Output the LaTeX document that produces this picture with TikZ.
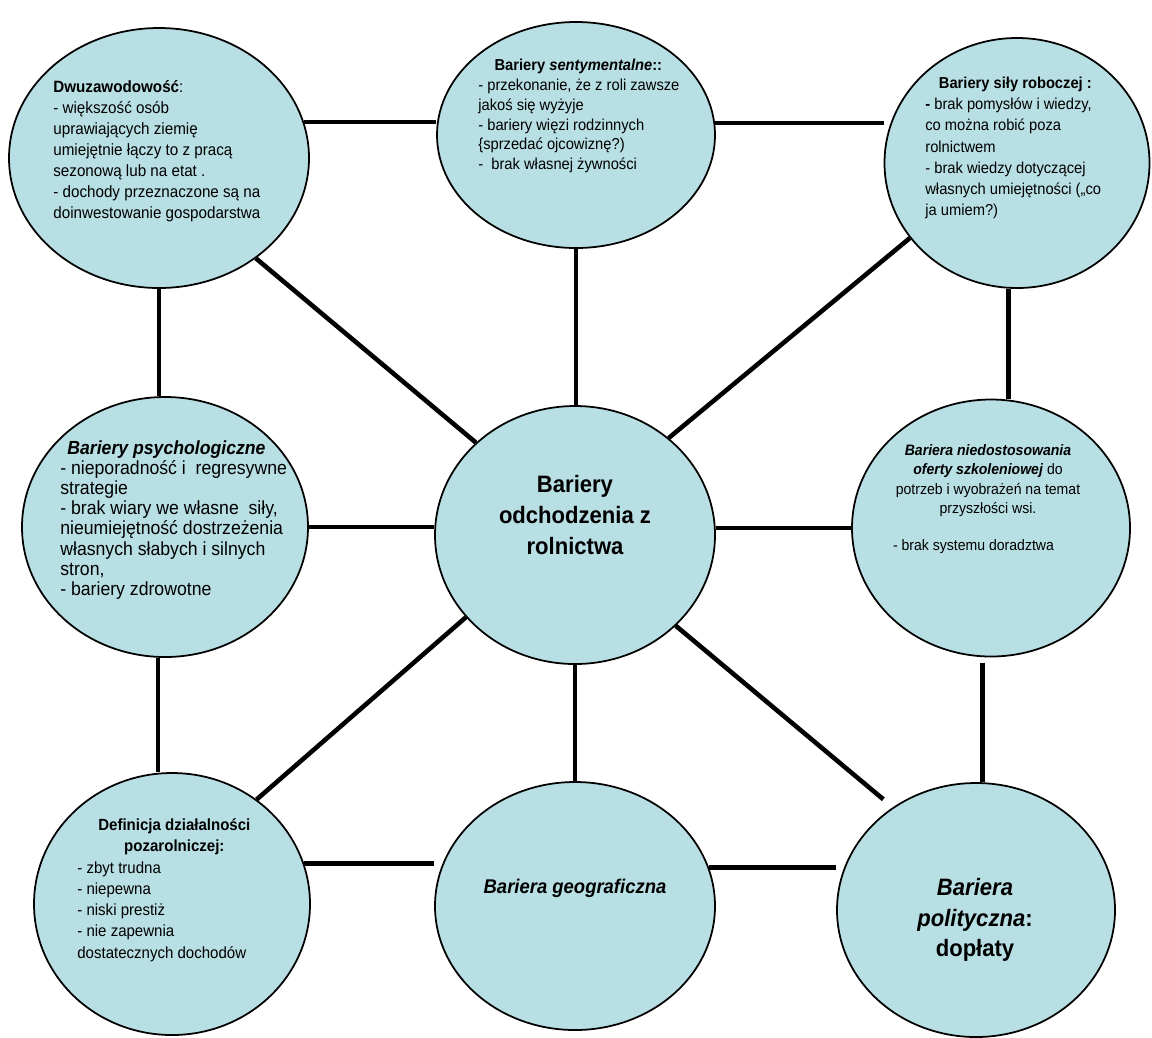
\documentclass[tikz,border=0pt]{standalone}
\usepackage{fontspec}
\setmainfont{Liberation Sans}[FakeStretch=0.93]
\usepackage{tikz}
\usetikzlibrary{shapes,calc}
\usepackage{xcolor}
\definecolor{bubble}{RGB}{184,223,227}

\begin{document}
\begin{tikzpicture}[
    bub/.style={ellipse,draw,fill=bubble,line width=1pt,inner sep=0pt},
    txt/.style={inner sep=0pt,anchor=west,align=left},
    big/.style={inner sep=0pt,align=center,font=\fontsize{13.5}{17.5}\selectfont\bfseries},
    bar/.style={line width=2.6pt}]
      \useasboundingbox (0,0) rectangle (23.04,-20.74);
      \node[bub,minimum width=6cm,minimum height=5.2cm] (dwu) at (3.18,-3.16) {};
      \node[bub,minimum width=5.56cm,minimum height=4.52cm] (sen) at (11.52,-2.70) {};
      \node[bub,minimum width=5.3cm,minimum height=5cm] (sil) at (20.34,-3.26) {};
      \node[bub,minimum width=5.72cm,minimum height=5.2cm] (psy) at (3.30,-10.54) {};
      \node[bub,minimum width=5.6cm,minimum height=5.16cm] (mid) at (11.50,-10.70) {};
      \node[bub,minimum width=5.56cm,minimum height=5.14cm] (nie) at (19.82,-10.56) {};
      \node[bub,minimum width=5.52cm,minimum height=5.24cm] (def) at (3.44,-18.08) {};
      \node[bub,minimum width=5.6cm,minimum height=4.96cm] (geo) at (11.50,-18.12) {};
      \node[bub,minimum width=5.56cm,minimum height=5.08cm] (pol) at (19.52,-18.20) {};
      % texts
      \node[txt,font=\fontsize{9.3}{11.9}\selectfont] (dwu-t) at ($(dwu)+(-2.12,0.14)$) {\textbf{Dwuzawodowość}:\\
        - większość osób\\ uprawiających ziemię\\ umiejętnie łączy to z pracą\\
        sezonową lub na etat .\\ - dochody przeznaczone są na\\ doinwestowanie gospodarstwa};
      \node[txt,font=\fontsize{9}{11.3}\selectfont] (sen-t) at ($(sen)+(-1.96,0.38)$) {\makebox[4cm]{\bfseries Bariery \textit{sentymentalne}::}\\
        - przekonanie, że z roli zawsze\\ jakoś się wyżyje\\ - bariery więzi rodzinnych\\
        \{sprzedać ojcowiznę?)\\ -~ brak własnej żywności};
      \node[txt,font=\fontsize{9}{12.1}\selectfont] (sil-t) at ($(sil)+(-1.84,0.30)$) {\makebox[3.6cm]{\bfseries Bariery siły roboczej :}\\
        \textbf{-} brak pomysłów i wiedzy,\\ co można robić poza\\ rolnictwem\\
        - brak wiedzy dotyczącej\\ własnych umiejętności („co\\ ja umiem?)};
      \node[txt,font=\fontsize{10.8}{11.45}\selectfont] (psy-t) at ($(psy)+(-2.1,0.14)$) {\hspace{4pt}\textbf{\textit{Bariery psychologiczne}}\\
        - nieporadność i~ regresywne\\ strategie\\ - brak wiary we własne~ siły,\\
        nieumiejętność dostrzeżenia\\ własnych słabych i silnych\\ stron,\\ - bariery zdrowotne};
      \node[big] (mid-t) at ($(mid)+(0,0.4)$) {Bariery\\ odchodzenia z\\ rolnictwa};
      \node[inner sep=0pt,align=center,font=\fontsize{8.6}{11}\selectfont] (nie-t) at ($(nie)+(-0.06,0.58)$) {\textbf{\textit{Bariera niedostosowania}}\\
        \textbf{\textit{oferty szkoleniowej}} do\\ potrzeb i wyobrażeń na temat\\ przyszłości wsi.\\[9.8pt]
        \makebox[3.8cm][l]{- brak systemu doradztwa}};
      \node[txt,font=\fontsize{9.2}{12.1}\selectfont] (def-t) at ($(def)+(-1.9,0.28)$) {\makebox[3.88cm]{\bfseries Definicja działalności}\\
        \makebox[3.88cm]{\bfseries pozarolniczej:}\\
        - zbyt trudna\\ - niepewna\\ - niski prestiż\\ - nie zapewnia\\ dostatecznych dochodów};
      \node[inner sep=0pt,font=\fontsize{11.3}{14}\selectfont\bfseries\itshape] (geo-t) at ($(geo)+(0,0.36)$) {Bariera geograficzna};
      \node[big] (pol-t) at ($(pol)+(-0.02,-0.2)$) {\textit{Bariera}\\ \textit{polityczna}:\\ dopłaty};
      % links
      \draw[bar] (dwu.14) -- (dwu.14 -| sen.west);
      \draw[bar] (sen.5) -- (sen.5 -| sil.west);
      \draw[bar] (dwu.south) -- (dwu.south |- psy.north);
      \draw[bar] (dwu.314) -- (mid.137);
      \draw[bar] (sen.south) -- (sen.south |- mid.north);
      \draw[bar] (sil.215) -- (mid.46);
      \draw[bar] (sil.266) -- (sil.266 |- nie.north);
      \draw[bar] (psy.east) -- (psy.east -| mid.west);
      \draw[bar] (nie.west -| mid.east) -- (nie.west);
      \draw[bar] (psy.267) -- (psy.267 |- def.north);
      \draw[bar] (mid.217) -- (def.51);
      \draw[bar] (mid.south) -- (mid.south |- geo.north);
      \draw[bar,shorten >=7pt] (mid.318) -- (pol.129);
      \draw[bar,shorten <=3pt] (pol.87 |- nie.south) -- (pol.87);
      \draw[bar] (def.17) -- (def.17 -| geo.west);
      \draw[bar] (geo.16) -- (geo.16 -| pol.west);
\end{tikzpicture}
\end{document}
